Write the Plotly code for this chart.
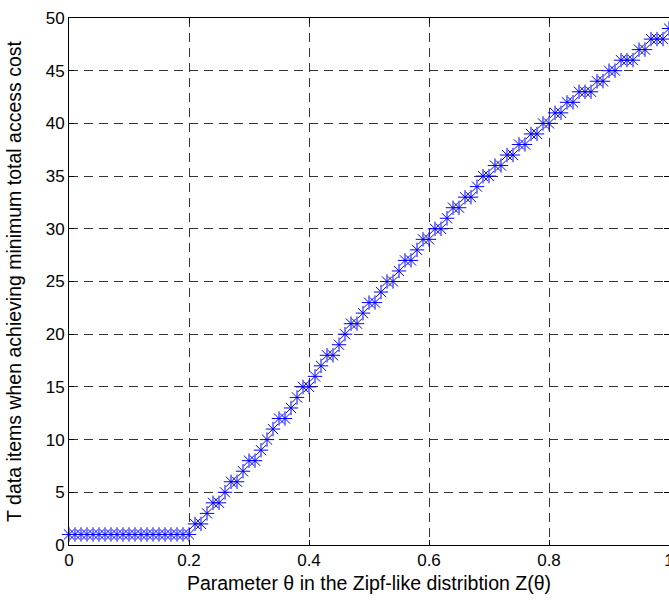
import plotly.graph_objects as go

theta = [round(i * 0.01, 2) for i in range(101)]
flat_part = [1] * 21  # theta 0.00 .. 0.20
rising_part = [
    2, 2, 3, 4, 4, 5, 6, 6, 7, 8,          # 0.21-0.30
    8, 9, 10, 11, 12, 12, 13, 14, 15, 15,  # 0.31-0.40
    16, 17, 18, 18, 19, 20, 21, 21, 22, 23,  # 0.41-0.50
    23, 24, 25, 25, 26, 27, 27, 28, 29, 29,  # 0.51-0.60
    30, 30, 31, 32, 32, 33, 33, 34, 35, 35,  # 0.61-0.70
    36, 36, 37, 37, 38, 38, 39, 39, 40, 40,  # 0.71-0.80
    41, 41, 42, 42, 43, 43, 43, 44, 44, 45,  # 0.81-0.90
    45, 46, 46, 46, 47, 47, 48, 48, 48, 49,  # 0.91-1.00
]
T_items = flat_part + rising_part

x_ticks = [0, 0.2, 0.4, 0.6, 0.8, 1]
x_tick_labels = ["0", "0.2", "0.4", "0.6", "0.8", "1"]
y_ticks = list(range(0, 51, 5))

fig = go.Figure()
fig.add_trace(go.Scatter(
    x=theta, y=T_items, mode="markers",
    marker=dict(symbol="asterisk-open", size=12, color="#0000ff",
                line=dict(color="#0000ff", width=1)),
    cliponaxis=False, showlegend=False,
))

fam = "Liberation Sans, Arial, sans-serif"
tick_font = dict(family=fam, size=17, color="black")
title_font = dict(family=fam, size=19.5, color="black")
fig.update_layout(
    width=669, height=601,
    margin=dict(l=69, r=0, t=18, b=56),
    paper_bgcolor="white", plot_bgcolor="white",
    font=tick_font,
    xaxis=dict(
        range=[0, 1], tickvals=x_ticks, ticktext=x_tick_labels, tickfont=tick_font,
        ticklabeloverflow="allow", automargin=False,
        showgrid=True, gridcolor="#333", griddash="9px,6px", gridwidth=1,
        zeroline=False, showline=True, linecolor="black", linewidth=1, mirror="ticks",
        ticks="inside", ticklen=5, tickcolor="black",
        title=dict(text="Parameter θ in the Zipf-like distribtion Z(θ)", standoff=6, font=title_font),
    ),
    yaxis=dict(
        range=[0, 50], tickvals=y_ticks, tickfont=tick_font, automargin=False,
        showgrid=True, gridcolor="#333", griddash="9px,6px", gridwidth=1,
        zeroline=False, showline=True, linecolor="black", linewidth=1, mirror="ticks",
        ticks="inside", ticklen=5, tickcolor="black",
        title=dict(text="T data items when achieving minimum total access cost", standoff=18, font=title_font),
    ),
)
fig.write_html("out.html")
